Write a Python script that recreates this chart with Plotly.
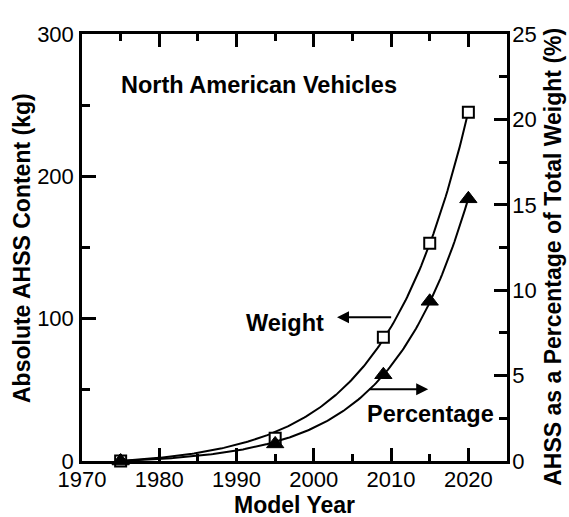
import numpy as np
import plotly.graph_objects as go

# Model years and measured AHSS content
years = [1975, 1995, 2009, 2015, 2020]
weight_kg = [0, 16, 87, 153, 245]          # absolute AHSS content (kg)
percent_total = [0, 1.0, 5.05, 9.35, 15.35]  # AHSS share of total vehicle weight (%)

x_ticks = [1970, 1980, 1990, 2000, 2010, 2020]
y_ticks = [0, 100, 200, 300]
y2_ticks = [0, 5, 10, 15, 20, 25]

FONT = "Liberation Sans, Arial, sans-serif"


def trend(xs, ys):
    """Least-squares growth curve y = A*(exp(b*(x - x0)) - 1) through the points."""
    xs = np.asarray(xs, float)
    ys = np.asarray(ys, float)
    t = xs - xs[0]
    best = None
    for b in np.arange(0.01, 0.30, 0.0005):
        f = np.exp(b * t) - 1.0
        a = (f @ ys) / (f @ f)
        err = np.sum((a * f - ys) ** 2)
        if best is None or err < best[0]:
            best = (err, a, b)
    _, a, b = best
    xx = np.linspace(xs[0], xs[-1], 200)
    return xx, a * (np.exp(b * (xx - xs[0])) - 1.0)


wx, wy = trend(years, weight_kg)
px_, py_ = trend(years, percent_total)

fig = go.Figure()

fig.add_trace(go.Scatter(x=wx, y=wy, mode="lines",
                         line=dict(color="black", width=2), showlegend=False,
                         hoverinfo="skip"))
fig.add_trace(go.Scatter(x=px_, y=py_, mode="lines", yaxis="y2",
                         line=dict(color="black", width=2), showlegend=False,
                         hoverinfo="skip"))
fig.add_trace(go.Scatter(x=years, y=weight_kg, mode="markers", name="Weight",
                         cliponaxis=False,
                         marker=dict(symbol="square", size=11, color="white",
                                     line=dict(color="black", width=2)),
                         showlegend=False))
fig.add_trace(go.Scatter(x=years, y=percent_total, mode="markers", yaxis="y2",
                         name="Percentage", cliponaxis=False,
                         marker=dict(symbol="triangle-up", size=15, color="black",
                                     line=dict(color="black", width=1)),
                         showlegend=False))

axis_common = dict(showline=True, linecolor="black", linewidth=2.5,
                   ticks="inside", tickcolor="black", tickwidth=2.5,
                   showgrid=False, zeroline=False, automargin=False,
                   tickfont=dict(family=FONT, size=22, color="black"))

fig.update_layout(
    width=569, height=517,
    margin=dict(l=82, r=62, t=34, b=56),
    paper_bgcolor="white", plot_bgcolor="white",
    font=dict(family=FONT, color="black"),
    xaxis=dict(range=[1970, 2025], tickvals=x_ticks, ticklen=13,
               minor=dict(dtick=5, tick0=1970, ticklen=7, ticks="inside",
                          tickcolor="black", tickwidth=2.5),
               mirror="ticks", ticklabelstandoff=-3,
               **axis_common),
    yaxis=dict(range=[0, 300], tickvals=y_ticks, ticklen=14,
               minor=dict(dtick=50, tick0=0, ticklen=8, ticks="inside",
                          tickcolor="black", tickwidth=2.5),
               ticklabelstandoff=1,
               **axis_common),
    yaxis2=dict(range=[0, 25], tickvals=y2_ticks, ticklen=13, overlaying="y",
                side="right",
                minor=dict(dtick=2.5, tick0=0, ticklen=8, ticks="inside",
                           tickcolor="black", tickwidth=2.5),
                ticklabelstandoff=-2,
                **axis_common),
)

title_font = dict(family=FONT, size=23, color="black")

# Axis titles
fig.add_annotation(x=0.501, y=-0.103, xref="paper", yref="paper",
                   text="<b>Model Year</b>", showarrow=False,
                   xanchor="center", yanchor="middle", font=title_font)
fig.add_annotation(x=-0.141, y=0.499, xref="paper", yref="paper",
                   text="<b>Absolute AHSS Content (kg)</b>", showarrow=False,
                   textangle=-90, xanchor="center", yanchor="middle", font=title_font)
fig.add_annotation(x=1.108, y=0.478, xref="paper", yref="paper",
                   text="<b>AHSS as a Percentage of Total Weight (%)</b>", showarrow=False,
                   textangle=-90, xanchor="center", yanchor="middle", font=title_font)

label_font = dict(family=FONT, size=23.5, color="black")

fig.add_annotation(x=1974.8, y=264, xref="x", yref="y", text="<b>North American Vehicles</b>",
                   showarrow=False, xanchor="left", yanchor="middle", font=label_font)
fig.add_annotation(x=2001.6, y=97, xref="x", yref="y", text="<b>Weight</b>",
                   showarrow=False, xanchor="right", yanchor="middle", font=label_font)
fig.add_annotation(x=2003.0, y=101, xref="x", yref="y", ax=2010.2, ay=101,
                   axref="x", ayref="y", text="", showarrow=True,
                   arrowhead=2, arrowsize=1.2, arrowwidth=2, arrowcolor="black")
fig.add_annotation(x=2014.8, y=4.2, xref="x", yref="y2", ax=2007.0, ay=4.2,
                   axref="x", ayref="y2", text="", showarrow=True,
                   arrowhead=2, arrowsize=1.2, arrowwidth=2, arrowcolor="black")
fig.add_annotation(x=2023.6, y=2.75, xref="x", yref="y2", text="<b>Percentage</b>",
                   showarrow=False, xanchor="right", yanchor="middle", font=label_font)

fig.write_html("out.html")
